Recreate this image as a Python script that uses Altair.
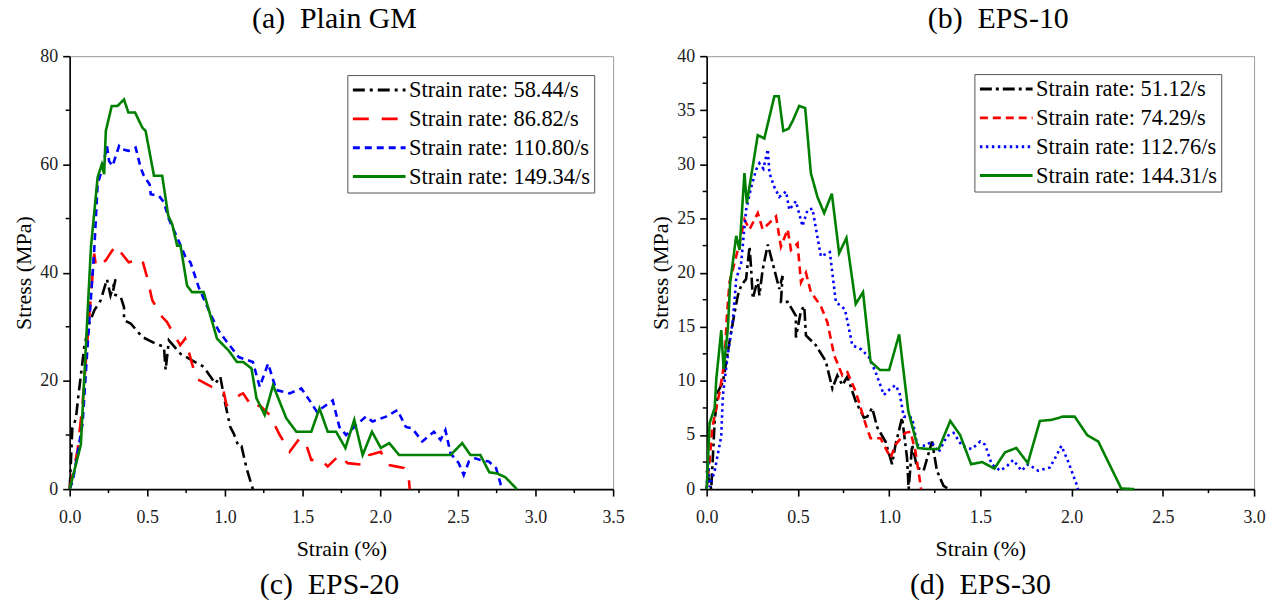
import altair as alt
import pandas as pd

FONT = "Liberation Serif"

# ---------------- Panel (a) Plain GM ----------------
a_labels = ["Strain rate: 58.44/s", "Strain rate: 86.82/s",
            "Strain rate: 110.80/s", "Strain rate: 149.34/s"]
a1_x = [0, 0.008, 0.017, 0.04, 0.055, 0.07, 0.094, 0.126, 0.158, 0.2, 0.24, 0.263, 0.295, 0.276,
        0.329, 0.35, 0.35, 0.393, 0.468, 0.553, 0.607, 0.618, 0.639, 0.714, 0.788, 0.863, 0.938,
        0.97, 1.002, 1.034, 1.056, 1.088, 1.107, 1.139, 1.171, 1.18]
a1_y = [0, 5.0, 11.2, 13.0, 17.0, 20.5, 26.3, 30.6, 33.0, 34.9, 38.8, 35.8, 38.8, 36.1,
        35.5, 33.6, 31.2, 30.6, 28.1, 26.9, 26.3, 22.0, 27.5, 25.0, 23.8, 22.6, 19.5,
        20.8, 15.8, 11.5, 10.3, 7.9, 7.9, 3.9, 0.8, 0]
a2_x = [0, 0.051, 0.083, 0.126, 0.158, 0.169, 0.188, 0.233, 0.295, 0.38, 0.466, 0.498, 0.532,
        0.596, 0.626, 0.712, 0.744, 0.788, 0.818, 0.915, 0.99, 1.01, 1.096, 1.117, 1.181,
        1.224, 1.288, 1.353, 1.417, 1.481, 1.524, 1.556, 1.62, 1.662, 1.737, 1.79, 1.887,
        1.929, 2.004, 2.047, 2.1, 2.154, 2.186, 2.19]
a2_y = [0, 7.2, 15.8, 31.8, 43.5, 41.3, 41.0, 42.3, 45.0, 41.9, 42.5, 39.2, 34.9,
        31.8, 30.9, 26.6, 27.8, 23.2, 20.4, 18.9, 18.3, 15.5, 17.4, 17.7, 14.9,
        15.5, 13.7, 10.0, 6.9, 9.4, 8.2, 5.4, 5.4, 4.2, 6.3, 4.8, 4.5,
        6.3, 6.9, 4.5, 4.2, 3.9, 1.4, 0]
a3_x = [0, 0.02, 0.083, 0.115, 0.158, 0.18, 0.212, 0.24, 0.254, 0.276, 0.318, 0.336, 0.378,
        0.425, 0.457, 0.478, 0.515, 0.522, 0.575, 0.607, 0.639, 0.692, 0.746, 0.778, 0.831,
        0.906, 0.959, 1.013, 1.088, 1.18, 1.224, 1.278, 1.331, 1.417, 1.492, 1.545, 1.592,
        1.694, 1.737, 1.78, 1.844, 1.908, 1.951, 2.037, 2.111, 2.165, 2.207, 2.271, 2.346,
        2.389, 2.42, 2.453, 2.506, 2.538, 2.571, 2.613, 2.645, 2.699, 2.746, 2.774, 2.78]
a3_y = [0, 1.5, 12.1, 26.3, 44.1, 56.3, 59.4, 63.4, 60.6, 59.7, 63.4, 62.8, 62.5,
        63.1, 59.4, 57.9, 56.3, 54.5, 54.2, 53.0, 49.9, 46.5, 42.9, 41.9, 37.3,
        32.4, 29.3, 27.2, 24.4, 23.5, 18.9, 23.2, 18.3, 17.7, 18.6, 16.4, 14.3,
        16.4, 11.5, 10.0, 11.8, 13.4, 12.5, 13.4, 14.6, 11.5, 11.2, 8.8, 10.6,
        9.1, 10.9, 6.6, 4.8, 2.6, 5.1, 5.7, 5.4, 5.1, 3.9, 1.1, 0]
a4_x = [0, 0.072, 0.137, 0.18, 0.207, 0.222, 0.233, 0.271, 0.308, 0.35, 0.378, 0.421, 0.468,
        0.489, 0.543, 0.596, 0.635, 0.66, 0.692, 0.714, 0.756, 0.788, 0.863, 0.949, 1.024,
        1.077, 1.117, 1.171, 1.203, 1.256, 1.31, 1.395, 1.46, 1.556, 1.609, 1.662, 1.716,
        1.776, 1.833, 1.887, 1.947, 2.004, 2.058, 2.122, 2.453, 2.528, 2.581, 2.645, 2.703,
        2.752, 2.806, 2.88]
a4_y = [0, 8.2, 44.7, 57.6, 60.0, 58.2, 66.2, 70.8, 70.8, 72.0, 69.6, 69.6, 66.8,
        66.2, 57.9, 57.9, 50.5, 49.0, 45.0, 45.0, 37.6, 36.4, 36.4, 27.8, 25.6,
        23.5, 23.5, 22.3, 16.8, 13.7, 19.2, 13.1, 10.6, 10.6, 14.9, 10.6, 10.6,
        7.6, 12.8, 6.3, 10.6, 7.6, 8.5, 6.3, 6.3, 8.5, 6.3, 6.3, 3.1,
        2.9, 2.2, 0]

# ---------------- Panel (b) EPS-10 ----------------
b_labels = ["Strain rate: 51.12/s", "Strain rate: 74.29/s",
            "Strain rate: 112.76/s", "Strain rate: 144.31/s"]
b1_x = [0, 0.025, 0.044, 0.062, 0.089, 0.125, 0.153, 0.171, 0.189, 0.216, 0.235, 0.244, 0.253,
        0.28, 0.289, 0.307, 0.335, 0.366, 0.398, 0.416, 0.407, 0.444, 0.489, 0.489, 0.517,
        0.535, 0.544, 0.598, 0.653, 0.689, 0.716, 0.744, 0.771, 0.817, 0.862, 0.88, 0.907,
        0.935, 0.98, 1.016, 1.035, 1.071, 1.098, 1.107, 1.126, 1.153, 1.189, 1.235, 1.262,
        1.298, 1.326]
b1_y = [1.7, 0, 6.3, 9.0, 9.9, 13.6, 16.3, 17.9, 18.8, 19.4, 22.4, 20.3, 17.6,
        19.4, 17.9, 20.3, 22.6, 20.6, 18.5, 19.7, 17.3, 17.3, 16.0, 14.0, 16.5,
        16.9, 14.2, 13.3, 11.8, 9.3, 10.5, 9.6, 10.4, 8.1, 6.6, 6.7, 7.5,
        5.7, 4.4, 2.3, 4.1, 6.6, 2.9, 0, 4.1, 2.0, 1.7, 4.4, 1.7,
        0.3, 0]
b2_x = [0, 0.016, 0.031, 0.071, 0.098, 0.111, 0.125, 0.18, 0.207, 0.235, 0.28, 0.307, 0.344,
        0.38, 0.407, 0.444, 0.462, 0.498, 0.517, 0.544, 0.571, 0.626, 0.662, 0.698, 0.744,
        0.771, 0.817, 0.871, 0.898, 0.953, 0.971, 1.008, 1.035, 1.089, 1.117, 1.144, 1.171,
        1.175]
b2_y = [0, 2.6, 5.7, 9.0, 11.8, 16.0, 19.1, 22.7, 24.9, 24.0, 25.5, 24.0, 24.6,
        25.2, 22.4, 24.0, 22.1, 22.7, 19.1, 20.0, 18.2, 16.9, 15.4, 12.4, 10.5,
        10.8, 9.0, 6.0, 4.7, 4.7, 4.1, 2.9, 4.1, 5.2, 5.3, 3.5, 0.5,
        0]
b3_x = [0, 0.008, 0.016, 0.044, 0.08, 0.089, 0.116, 0.144, 0.162, 0.189, 0.216, 0.244, 0.271,
        0.289, 0.311, 0.335, 0.344, 0.371, 0.398, 0.435, 0.453, 0.489, 0.525, 0.553, 0.58,
        0.626, 0.675, 0.708, 0.758, 0.798, 0.849, 0.889, 0.926, 0.971, 1.008, 1.035, 1.057,
        1.08, 1.126, 1.153, 1.199, 1.231, 1.271, 1.317, 1.353, 1.399, 1.453, 1.499, 1.526,
        1.562, 1.608, 1.644, 1.68, 1.726, 1.762, 1.817, 1.881, 1.917, 1.944, 1.98, 2.026,
        2.035]
b3_y = [0, 2.9, 0.2, 1.7, 4.9, 8.7, 12.4, 15.7, 19.4, 20.9, 25.8, 27.9, 29.5,
        30.1, 29.6, 31.4, 29.2, 27.9, 27.0, 27.5, 25.8, 26.6, 24.3, 25.8, 25.9,
        21.5, 21.9, 17.3, 16.6, 13.3, 12.9, 12.2, 10.8, 8.7, 9.3, 9.6, 8.9,
        6.7, 6.6, 4.1, 4.0, 4.4, 3.4, 4.9, 5.2, 4.0, 3.7, 4.4, 4.1,
        2.3, 1.7, 2.1, 2.7, 1.7, 2.3, 1.7, 2.0, 3.1, 4.0, 2.6, 0.5,
        0]
b4_x = [0, 0.016, 0.044, 0.053, 0.08, 0.093, 0.116, 0.129, 0.162, 0.18, 0.207, 0.22, 0.28,
        0.316, 0.371, 0.395, 0.42, 0.449, 0.471, 0.507, 0.54, 0.571, 0.607, 0.644, 0.686,
        0.726, 0.766, 0.817, 0.857, 0.898, 0.95, 1.0, 1.055, 1.105, 1.158, 1.217, 1.271,
        1.335, 1.389, 1.449, 1.509, 1.577, 1.635, 1.697, 1.76, 1.826, 1.89, 1.953, 2.017,
        2.085, 2.146, 2.272, 2.344]
b4_y = [0, 6.1, 7.5, 10.2, 14.7, 11.1, 14.8, 19.1, 23.4, 22.1, 29.2, 26.4, 32.7,
        32.4, 36.3, 36.3, 33.1, 33.3, 34.0, 35.4, 35.2, 29.2, 27.0, 25.5, 27.3,
        21.8, 23.2, 17.1, 18.2, 11.8, 11.0, 11.0, 14.3, 7.2, 3.8, 3.7, 3.7,
        6.3, 5.0, 2.3, 2.5, 1.9, 3.4, 3.8, 2.4, 6.3, 6.4, 6.7, 6.7,
        5.0, 4.4, 0.06, 0]

colors = ["#000000", "#ff0000", "#0000ff", "#008000"]
a_dashes = [[12, 5, 3, 5], [16, 13], [7, 5], [1, 0]]
b_dashes = [[12, 4, 3, 4], [8, 5], [2.5, 3.5], [1, 0]]

titles = ["(a)\u00a0\u00a0Plain GM", "(b)\u00a0\u00a0EPS-10"]
captions = ["(c)\u00a0\u00a0EPS-20", "(d)\u00a0\u00a0EPS-30"]


def frame(labels, xs, ys):
    rows = []
    for lab, xv, yv in zip(labels, xs, ys):
        for i, (x, y) in enumerate(zip(xv, yv)):
            rows.append({"series": lab, "i": i, "strain": x, "stress": y})
    return pd.DataFrame(rows)


AX = dict(labelFont=FONT, labelFontSize=18, labelColor="#222222",
          titleFont=FONT, titleFontSize=22, titleFontWeight="normal", titleColor="black",
          domainColor="black", domainWidth=1.6, tickColor="black", tickWidth=1.6,
          tickSize=7, grid=False, labelOverlap=False)


def panel(df, labels, dashes, xmax, xmajor, xminor, ymax, ymajor, yminor,
          w, h, title, caption, lx, ly, tdx, cdx):
    xs = alt.Scale(domain=[0, xmax], nice=False, zero=False)
    ys = alt.Scale(domain=[0, ymax], nice=False, zero=False)
    xax = alt.Axis(values=xmajor, format=".1f", title="Strain (%)",
                   labelFlush=False, labelPadding=13, titlePadding=12, **AX)
    yax = alt.Axis(values=ymajor, format="d", title="Stress (MPa)",
                   labelPadding=5, titlePadding=4, **AX)
    lg = alt.Legend(title=None, orient="none", legendX=lx, legendY=ly,
                    symbolType="stroke", symbolSize=2800, symbolStrokeWidth=3,
                    clipHeight=22, rowPadding=6, padding=4, labelOffset=2,
                    labelFont=FONT, labelFontSize=22.5, labelColor="black",
                    labelLimit=400, strokeColor="#555555", fillColor="white")
    lines = alt.Chart(df).mark_line(strokeWidth=2.6).encode(
        x=alt.X("strain:Q", scale=xs, axis=xax),
        y=alt.Y("stress:Q", scale=ys, axis=yax),
        color=alt.Color("series:N", scale=alt.Scale(domain=labels, range=colors), legend=lg),
        strokeDash=alt.StrokeDash("series:N", scale=alt.Scale(domain=labels, range=dashes),
                                  legend=lg),
        order=alt.Order("i:Q"),
    )
    xm = alt.Chart(pd.DataFrame({"strain": xminor})).mark_rule(
        color="black", strokeWidth=1.5).encode(
        x=alt.X("strain:Q", scale=xs, axis=xax),
        y=alt.value(h), y2=alt.value(h + 4))
    ym = alt.Chart(pd.DataFrame({"stress": yminor})).mark_rule(
        color="black", strokeWidth=1.5).encode(
        y=alt.Y("stress:Q", scale=ys, axis=yax),
        x=alt.value(0), x2=alt.value(-4))
    cap = alt.Chart(pd.DataFrame({"t": [caption]})).mark_text(
        font=FONT, fontSize=30, color="black", baseline="middle", align="center").encode(
        text="t:N", x=alt.value(w / 2 + cdx), y=alt.value(h + 96))
    return alt.layer(lines, xm, ym, cap).properties(
        width=w, height=h,
        title=alt.TitleParams(titles[title], frame="group", font=FONT, fontSize=30,
                              fontWeight="normal", color="black",
                              anchor="middle", dx=tdx, offset=13))


dfa = frame(a_labels, [a1_x, a2_x, a3_x, a4_x], [a1_y, a2_y, a3_y, a4_y])
dfb = frame(b_labels, [b1_x, b2_x, b3_x, b4_x], [b1_y, b2_y, b3_y, b4_y])

pa = panel(dfa, a_labels, a_dashes, 3.5, [i * 0.5 for i in range(8)],
           [0.25 + i * 0.5 for i in range(7)], 80, [0, 20, 40, 60, 80], [10, 30, 50, 70],
           546, 435, 0, captions[0], 279, 19, -7, -12)
pb = panel(dfb, b_labels, b_dashes, 3.0, [i * 0.5 for i in range(7)],
           [0.25 + i * 0.5 for i in range(6)], 40, [0, 5, 10, 15, 20, 25, 30, 35, 40],
           [2.5 + 5 * i for i in range(8)],
           550, 435, 1, captions[1], 269, 18, 18, 0)

chart = alt.hconcat(pa, pb, spacing=94, bounds="flush").resolve_scale(
    x="independent", y="independent", color="independent", strokeDash="independent"
).resolve_legend(color="independent", strokeDash="independent").properties(
    padding={"left": 12, "top": 2, "right": 5, "bottom": 5}
).configure_view(stroke="#9a9a9a", strokeWidth=1)

chart.save("out.html", embed_options={"renderer": "svg", "actions": False})
